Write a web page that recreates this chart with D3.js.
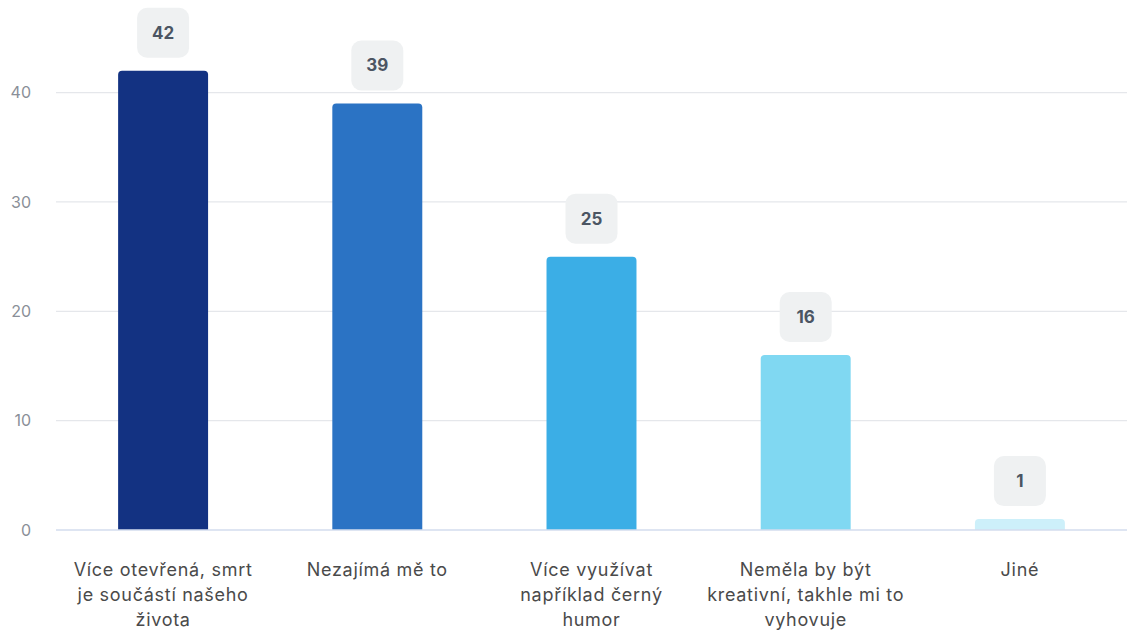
<!DOCTYPE html>
<html><head><meta charset="utf-8">
<script src="https://cdn.jsdelivr.net/npm/d3@7"></script>
<style>html,body{margin:0;padding:0;background:#fff;}svg{display:block;font-family:Inter,"Noto Sans",sans-serif;}</style>
</head><body>
<svg id="c" width="1127" height="632"></svg>
<script>
const categories = [
  ["Více otevřená, smrt", "je součástí našeho", "života"],
  ["Nezajímá mě to"],
  ["Více využívat", "například černý", "humor"],
  ["Neměla by být", "kreativní, takhle mi to", "vyhovuje"],
  ["Jiné"]
];
const values = [42, 39, 25, 16, 1];
const colors = ["#133282", "#2b73c4", "#3baee6", "#80d8f2", "#cdf0fa"];
const yTicks = [0, 10, 20, 30, 40];

(function () {
const svg = d3.select("#c");
const mLeft = 56, mRight = 1127, mBottom = 530;
const x = d3.scaleBand().domain(d3.range(values.length)).range([mLeft, mRight]).padding(0);
const y = d3.scaleLinear().domain([0, 40]).range([mBottom, 92.6]);
const barW = x.bandwidth() * 0.42;

svg.append("g").selectAll("line").data(yTicks.filter(t => t > 0)).join("line")
  .attr("x1", mLeft).attr("x2", mRight).attr("y1", d => y(d)).attr("y2", d => y(d))
  .attr("stroke", "#e5e7eb").attr("stroke-width", 1.2);

const yAxis = d3.axisLeft(y).tickValues(yTicks).tickSize(0).tickPadding(0);
const ga = svg.append("g").attr("transform", "translate(31,0)").call(yAxis);
ga.select(".domain").remove();
ga.selectAll("text").attr("fill", "#8a8f98").style("font-size", "16px").style("font-family", "Inter, sans-serif");

const r = 4;
svg.append("g").selectAll("path").data(values).join("path")
  .attr("fill", (d, i) => colors[i])
  .attr("d", (d, i) => {
    const cx = x(i) + x.bandwidth() / 2;
    const x0 = cx - barW / 2, x1 = cx + barW / 2;
    const y0 = y(d), y1 = y(0);
    return `M${x0},${y1}V${y0 + r}Q${x0},${y0} ${x0 + r},${y0}H${x1 - r}Q${x1},${y0} ${x1},${y0 + r}V${y1}Z`;
  });

svg.append("line").attr("x1", mLeft).attr("x2", mRight).attr("y1", y(0)).attr("y2", y(0))
  .attr("stroke", "#d3dcee").attr("stroke-width", 1.5);

const lb = svg.append("g").selectAll("g").data(values).join("g")
  .attr("transform", (d, i) => `translate(${x(i) + x.bandwidth() / 2},${y(d) - 13})`);
lb.append("rect").attr("x", -26).attr("y", -50).attr("width", 52).attr("height", 50)
  .attr("rx", 10).attr("fill", "#eff1f2");
lb.append("text").attr("y", -25).attr("dy", "0.35em").attr("text-anchor", "middle")
  .attr("fill", "#4b5563").style("font-size", "17px").style("font-weight", "700")
  .text(d => d);

const cl = svg.append("g").selectAll("text").data(categories).join("text")
  .attr("text-anchor", "middle").attr("fill", "#4a4a4a")
  .style("font-size", "18px").style("letter-spacing", "0.7px")
  .attr("transform", (d, i) => `translate(${x(i) + x.bandwidth() / 2},0)`);
cl.selectAll("tspan").data(d => d).join("tspan")
  .attr("x", 0).attr("y", (d, j) => 576 + j * 25).text(d => d);
})();
</script>
</body></html>
